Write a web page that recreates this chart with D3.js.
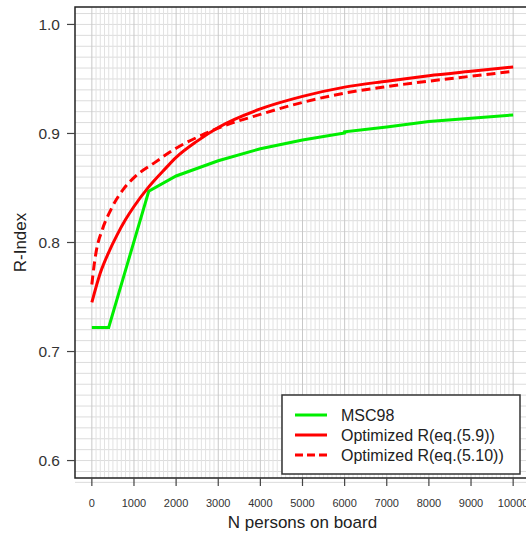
<!DOCTYPE html>
<html>
<head>
<meta charset="utf-8">
<script src="https://cdn.jsdelivr.net/npm/d3@7"></script>
<style>
  body { margin: 0; background: #fff; }
  svg { font-family: "Liberation Sans", Arial, sans-serif; }
</style>
</head>
<body>
<svg width="526" height="535"></svg>
<script>
// MSC98 requirement
let msc98N = [0, 400, 1350, 2000, 3000, 4000, 5000, 6000, 6000, 7000, 8000, 9000, 10000];
let msc98R = [0.722, 0.722, 0.847, 0.861, 0.875, 0.886, 0.894, 0.9005, 0.9015, 0.906, 0.911, 0.914, 0.917];

// Optimized R, eq.(5.9)
let opt59N = [0, 200, 400, 600, 800, 1000, 1350, 1750, 2000, 2500, 3000, 4000, 5000, 6000, 7000, 8000, 9000, 10000];
let opt59R = [0.745, 0.772, 0.791, 0.807, 0.821, 0.833, 0.851, 0.868, 0.878, 0.893, 0.9055, 0.9225, 0.934, 0.9425, 0.948, 0.953, 0.957, 0.961];

// Optimized R, eq.(5.10)
let opt510N = [0, 50, 100, 250, 450, 750, 1000, 1500, 2000, 2500, 3000, 4000, 5000, 6000, 7000, 8000, 9000, 10000];
let opt510R = [0.7615, 0.778, 0.791, 0.812, 0.83, 0.849, 0.8595, 0.8735, 0.8865, 0.8965, 0.905, 0.9175, 0.9285, 0.937, 0.943, 0.948, 0.9525, 0.957];

let xTicks = [0, 1000, 2000, 3000, 4000, 5000, 6000, 7000, 8000, 9000, 10000];
let yTicks = [0.6, 0.7, 0.8, 0.9, 1.0];
let legendLabels = ["MSC98", "Optimized R(eq.(5.9))", "Optimized R(eq.(5.10))"];

let svg = d3.select("svg");
let plotL = 75, plotR = 530, plotT = 7, plotB = 478;

let x = d3.scaleLinear().domain([-400, 10400]).range([plotL, plotR]);
let y = d3.scaleLinear().domain([0.584, 1.016]).range([plotB, plotT]);

// grid
let grid = svg.append("g");
grid.selectAll("line.h")
  .data(d3.range(58, 102).map(function (d) { return d / 100; }))
  .enter()
  .append("line")
  .attr("x1", plotL)
  .attr("x2", plotR)
  .attr("y1", function (d) { return y(d); })
  .attr("y2", function (d) { return y(d); })
  .attr("stroke", "#dcdcdc")
  .attr("stroke-width", 1);

grid.selectAll("line.v")
  .data(d3.range(0, 10001, 100))
  .enter()
  .append("line")
  .attr("x1", function (d) { return x(d); })
  .attr("x2", function (d) { return x(d); })
  .attr("y1", plotT)
  .attr("y2", plotB)
  .attr("stroke", function (d) { return d % 1000 === 0 ? "#c8c8c8" : "#e2e2e2"; })
  .attr("stroke-width", 1);

// curves
let line = d3.line()
  .x(function (d) { return x(d[0]); })
  .y(function (d) { return y(d[1]); });

svg.append("path")
  .datum(d3.zip(msc98N, msc98R))
  .attr("d", line)
  .attr("fill", "none")
  .attr("stroke", "#00ee00")
  .attr("stroke-width", 3);

svg.append("path")
  .datum(d3.zip(opt59N, opt59R))
  .attr("d", line.curve(d3.curveMonotoneX))
  .attr("fill", "none")
  .attr("stroke", "#ff0000")
  .attr("stroke-width", 3);

svg.append("path")
  .datum(d3.zip(opt510N, opt510R))
  .attr("d", line.curve(d3.curveMonotoneX))
  .attr("fill", "none")
  .attr("stroke", "#ff0000")
  .attr("stroke-width", 3)
  .attr("stroke-dasharray", "9,5");

// frame
svg.append("rect")
  .attr("x", plotL)
  .attr("y", plotT)
  .attr("width", plotR - plotL)
  .attr("height", plotB - plotT)
  .attr("fill", "none")
  .attr("stroke", "#222")
  .attr("stroke-width", 1.5);

// axes
let yAxis = svg.append("g");
yAxis.selectAll("line")
  .data(yTicks)
  .enter()
  .append("line")
  .attr("x1", plotL - 8)
  .attr("x2", plotL)
  .attr("y1", function (d) { return y(d); })
  .attr("y2", function (d) { return y(d); })
  .attr("stroke", "#444")
  .attr("stroke-width", 1.2);
yAxis.selectAll("text")
  .data(yTicks)
  .enter()
  .append("text")
  .attr("x", plotL - 15)
  .attr("y", function (d) { return y(d); })
  .attr("dy", "0.36em")
  .attr("text-anchor", "end")
  .attr("font-size", 15.5)
  .attr("fill", "#333")
  .text(function (d) { return d.toFixed(1); });

let xAxis = svg.append("g");
xAxis.selectAll("line")
  .data(xTicks)
  .enter()
  .append("line")
  .attr("x1", function (d) { return x(d); })
  .attr("x2", function (d) { return x(d); })
  .attr("y1", plotB)
  .attr("y2", plotB + 8)
  .attr("stroke", "#444")
  .attr("stroke-width", 1.2);
xAxis.selectAll("text")
  .data(xTicks)
  .enter()
  .append("text")
  .attr("x", function (d) { return x(d); })
  .attr("y", 507)
  .attr("text-anchor", "middle")
  .attr("font-size", 11)
  .attr("fill", "#333")
  .text(function (d) { return d; });

svg.append("text")
  .attr("x", (plotL + plotR) / 2)
  .attr("y", 528)
  .attr("text-anchor", "middle")
  .attr("font-size", 17)
  .attr("fill", "#222")
  .text("N persons on board");

svg.append("text")
  .attr("transform", "translate(26," + (plotT + plotB) / 2 + ") rotate(-90)")
  .attr("text-anchor", "middle")
  .attr("font-size", 17)
  .attr("fill", "#222")
  .text("R-Index");

// legend
let legend = svg.append("g").attr("transform", "translate(282,395)");
legend.append("rect")
  .attr("width", 238)
  .attr("height", 79)
  .attr("fill", "#fff")
  .attr("stroke", "#333")
  .attr("stroke-width", 1.5);

let legendRows = legend.selectAll("g.row")
  .data(legendLabels)
  .enter()
  .append("g")
  .classed("row", true)
  .attr("transform", function (d, i) { return "translate(0," + (20 + i * 20) + ")"; });

legendRows.append("line")
  .attr("x1", 13)
  .attr("x2", 45)
  .attr("stroke", function (d, i) { return i === 0 ? "#00ee00" : "#ff0000"; })
  .attr("stroke-width", 3)
  .attr("stroke-dasharray", function (d, i) { return i === 2 ? "8,4" : null; });

legendRows.append("text")
  .attr("x", 59)
  .attr("dy", "0.36em")
  .attr("font-size", 16)
  .attr("fill", "#222")
  .text(function (d) { return d; });
</script>
</body>
</html>
